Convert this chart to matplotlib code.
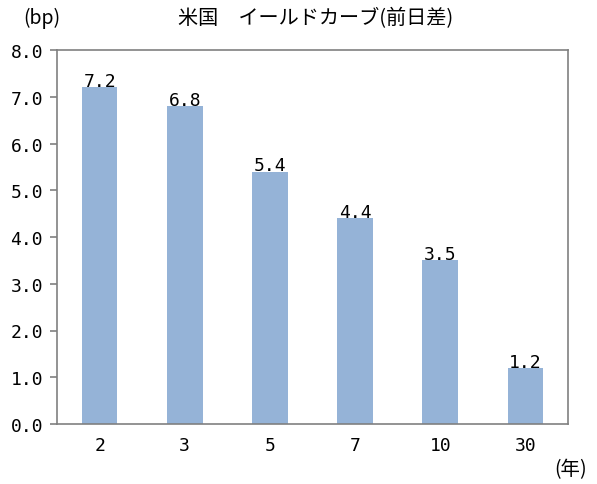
import matplotlib
matplotlib.use("Agg")
import matplotlib.pyplot as plt
import numpy as np

plt.rcParams['font.family'] = ['Noto Sans CJK JP', 'DejaVu Sans']

# data
maturities = ['2', '3', '5', '7', '10', '30']
change_bp = [7.2, 6.8, 5.4, 4.4, 3.5, 1.2]
yticks = [0.0, 1.0, 2.0, 3.0, 4.0, 5.0, 6.0, 7.0, 8.0]

bar_color = '#95B3D7'
spine_color = '#808080'
num_font = 'DejaVu Sans Mono'

fig = plt.figure(figsize=(5.97, 4.85), dpi=100)
ax = fig.add_axes([57/597, 1 - 425/485, (568-57)/597, (425-51)/485])

x = np.arange(len(maturities))
ax.bar(x, change_bp, width=0.42, color=bar_color, zorder=2)

# value labels on top of bars
for xi, v in zip(x, change_bp):
    ax.annotate(f'{v:.1f}', (xi, v), xytext=(0, -2), textcoords='offset points',
                ha='center', va='bottom', fontsize=13, family=num_font, zorder=3)

ax.set_xlim(-0.5, len(maturities) - 0.5)
ax.set_ylim(0, 8)
ax.set_yticks(yticks)
ax.set_yticklabels([f'{t:.1f}' for t in yticks], fontsize=13, family=num_font)
ax.set_xticks(x)
ax.set_xticklabels(maturities, fontsize=13, family=num_font)
ax.tick_params(axis='x', length=0, pad=9)
ax.tick_params(axis='y', length=5, color=spine_color, width=1.2, pad=5)

for s in ax.spines.values():
    s.set_color(spine_color)
    s.set_linewidth(1.2)

fig.text(316/597, 1 - 19/485, '米国　イールドカーブ(前日差)', ha='center', va='center', fontsize=14.5)
fig.text(42/597, 1 - 18/485, '(bp)', ha='center', va='center', fontsize=14)
fig.text(571/597, 1 - 470/485, '(年)', ha='center', va='center', fontsize=14)

fig.savefig('out.png', dpi=100)
